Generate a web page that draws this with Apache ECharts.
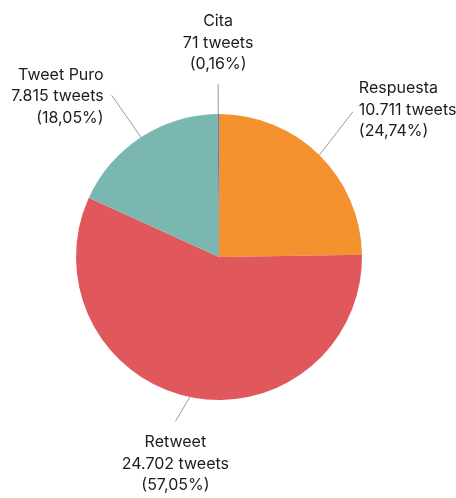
<!DOCTYPE html>
<html>
<head>
<meta charset="utf-8">
<script src="https://cdn.jsdelivr.net/npm/echarts@6/dist/echarts.min.js"></script>
<style>
html,body{margin:0;padding:0;background:#fff;}
#chart{width:456px;height:498px;}
</style>
</head>
<body>
<div id="chart"></div>
<script>
const categories = ['Respuesta', 'Retweet', 'Tweet Puro', 'Cita'];
const tweetCounts = [10711, 24702, 7815, 71];
const percentLabels = ['24,74%', '57,05%', '18,05%', '0,16%'];
const countLabels = ['10.711', '24.702', '7.815', '71'];

// styling
const colors = ['#F3922F', '#E0585C', '#7AB7B0', '#4F82BD'];
const lineLengths = [55, 27, 50, 30];
const lineEndNudge = [[-5, -4], [-9, -2], [-2, 0], [0, 0]];
const textNudge = [[0, -2], [0, 2], [0, 1], [0, -1]];

const chart = echarts.init(document.getElementById('chart'), null, {renderer: 'canvas'});

const data = categories.map((name, i) => ({
  name: name,
  value: tweetCounts[i],
  itemStyle: {color: colors[i]},
  labelLine: {length: lineLengths[i], length2: 0}
}));

chart.setOption({
  animation: false,
  series: [{
    type: 'pie',
    center: [219, 257],
    radius: [0, 143],
    startAngle: 90,
    clockwise: true,
    avoidLabelOverlap: false,
    data: data,
    itemStyle: {borderWidth: 0},
    label: {
      show: true,
      position: 'outside',
      overflow: 'none',
      formatter: function (p) {
        const i = p.dataIndex;
        return p.name + '\n' + countLabels[i] + ' tweets\n(' + percentLabels[i] + ')';
      },
      fontFamily: 'Inter, "Liberation Sans", Arial, sans-serif',
      fontSize: 16,
      lineHeight: 21.5,
      color: '#1c1c1c'
    },
    labelLine: {
      show: true,
      smooth: false,
      lineStyle: {color: '#9a9a9a', width: 1}
    },
    labelLayout: function (params) {
      const pts = params.labelLinePoints;
      if (!pts || pts.length < 2) return {};
      const i = params.dataIndex;
      const a = pts[0];
      const b0 = pts[pts.length - 1];
      const b = [b0[0] + lineEndNudge[i][0], b0[1] + lineEndNudge[i][1]];
      let dx = b0[0] - a[0], dy = b0[1] - a[1];
      const len = Math.sqrt(dx * dx + dy * dy) || 1;
      dx /= len; dy /= len;
      const tn = textNudge[i];
      if (Math.abs(dx) < 0.45) {
        return {
          x: b[0] + tn[0], y: b[1] + (dy > 0 ? 8 : -8) + tn[1],
          align: 'center', verticalAlign: dy > 0 ? 'top' : 'bottom',
          labelLinePoints: [a, b]
        };
      }
      return {
        x: b[0] + (dx > 0 ? 6 : -8) + tn[0], y: b[1] + tn[1],
        align: dx > 0 ? 'left' : 'right', verticalAlign: 'middle',
        labelLinePoints: [a, b]
      };
    }
  }]
});
</script>
</body>
</html>
